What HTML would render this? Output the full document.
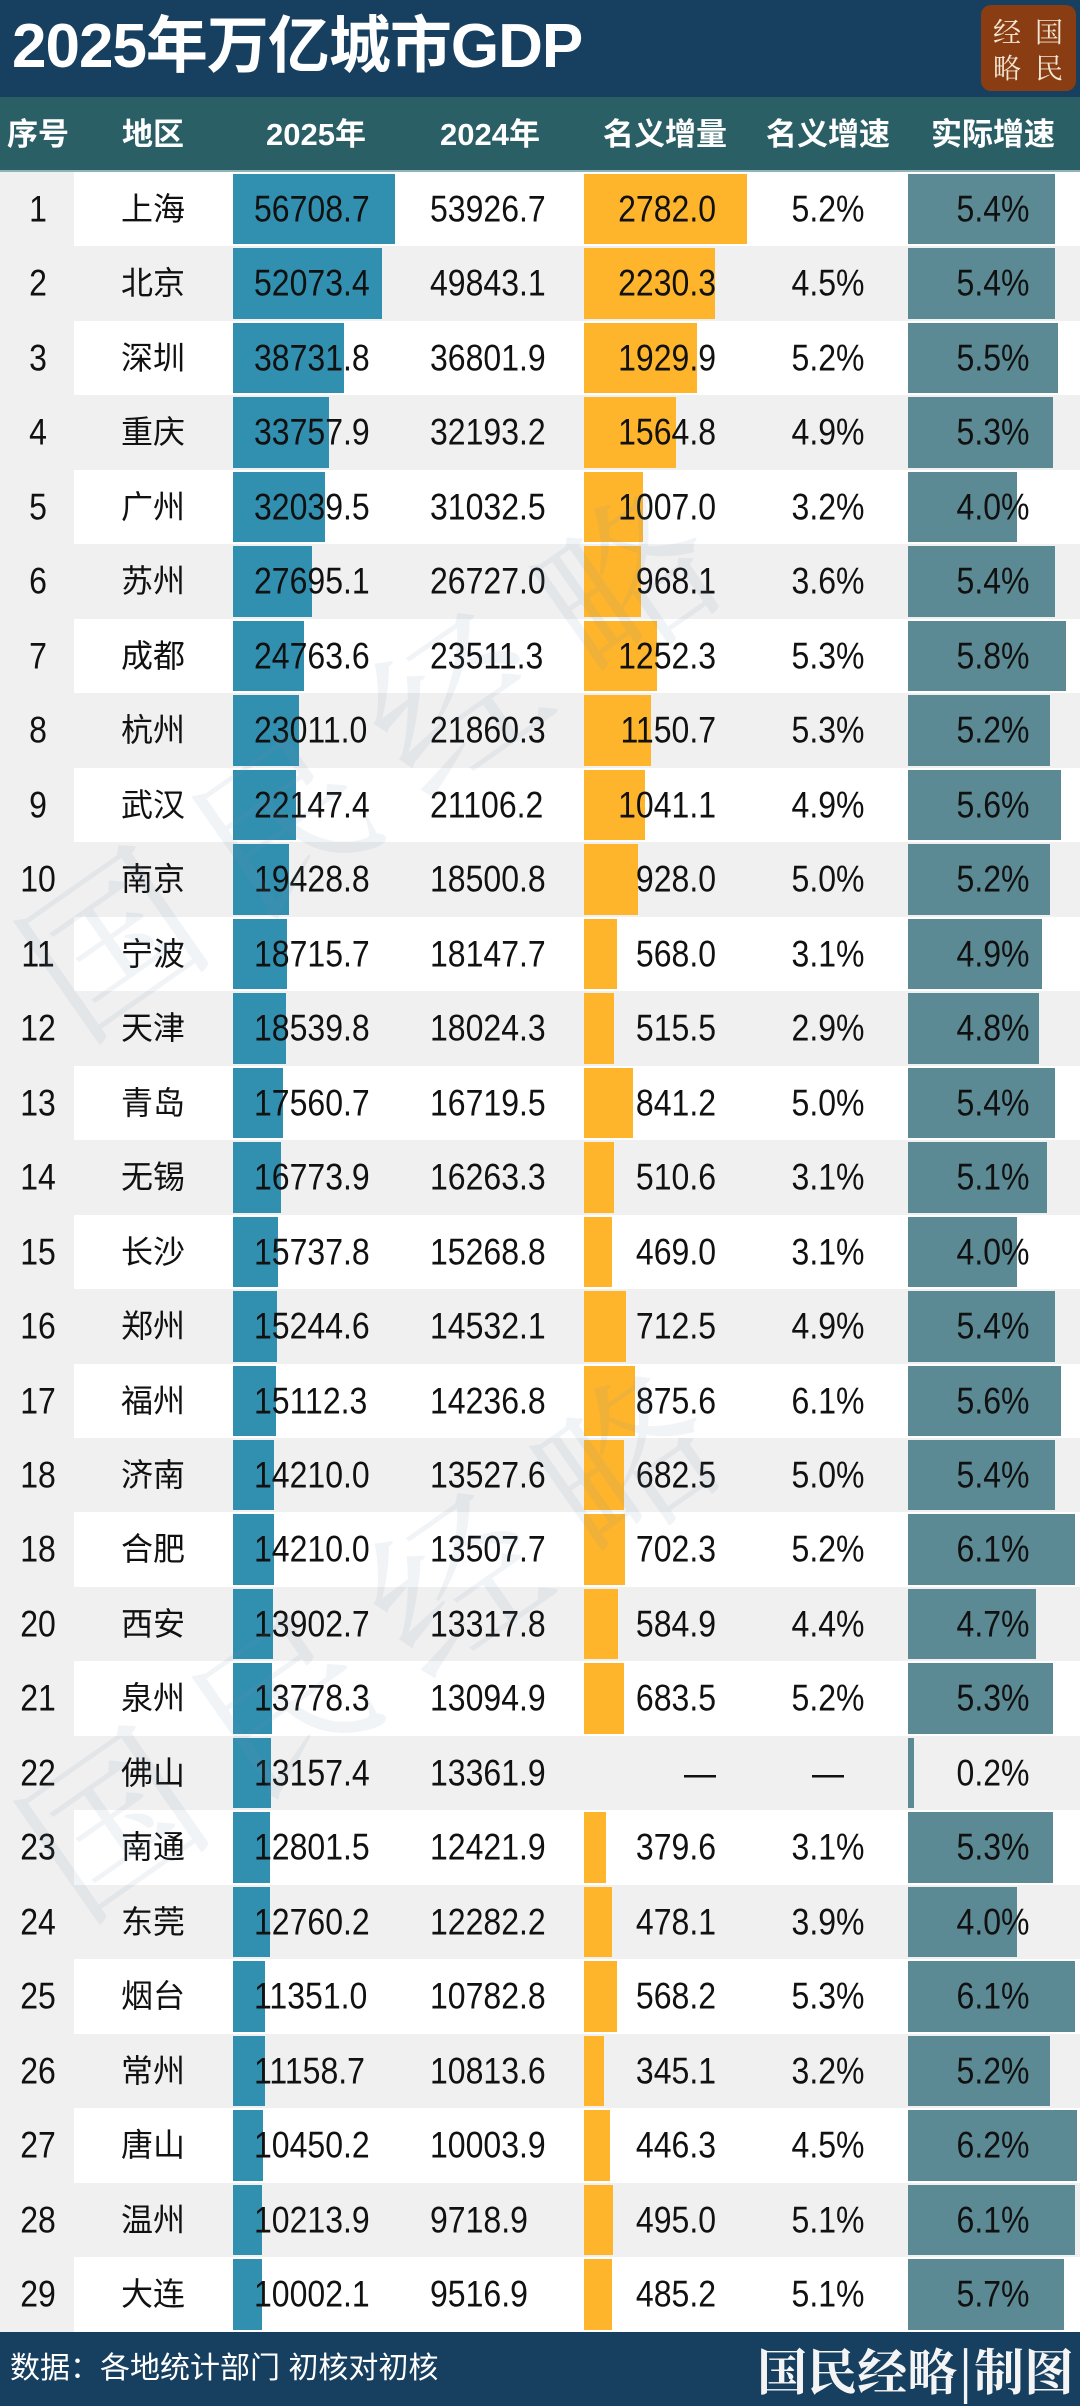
<!DOCTYPE html>
<html><head><meta charset="utf-8">
<style>
*{margin:0;padding:0;box-sizing:border-box}
body{width:1080px;height:2406px;position:relative;overflow:hidden;background:#fff;font-family:"Liberation Sans","Noto Sans CJK SC",sans-serif;color:#111}
.title{position:absolute;left:0;top:0;width:1080px;height:97px;background:#173f5f}
.title h1{position:absolute;left:12px;top:12px;font-size:62px;font-weight:bold;color:#fff;letter-spacing:-1px;line-height:70px;font-family:"Liberation Sans","Noto Sans CJK SC",sans-serif}
.logo{position:absolute;left:981px;top:5px;width:95px;height:86px;background:#8a3d12;border-radius:10px;color:#f3e7d6;font-family:"Noto Serif CJK SC",serif;font-size:28px;line-height:28px}
.logo b{position:absolute;font-weight:normal}
.head{position:absolute;left:0;top:97px;width:1080px;height:75px;background:#2a5f66;border-bottom:2px solid #8fb3b8}
.head span{position:absolute;top:0;line-height:75px;color:#fff;font-weight:bold;font-size:31px;transform:translateX(-50%);white-space:nowrap}
.rows{position:absolute;left:0;top:172px;width:1080px}
.r{position:relative;height:74.48px;background:#fff}
.r:nth-child(even){background:#f0f0f0}
.r:nth-child(odd)::before{content:"";position:absolute;left:0;top:0;width:74px;height:100%;background:#f0f0f0}
.r>*{position:absolute}
.n,.c,.t1,.t2,.t3,.t4,.t5{top:0;line-height:74px;font-size:32px;white-space:nowrap}
.n{left:38px;transform:translateX(-50%) scaleY(1.15)}
.c{left:153px;transform:translateX(-50%);font-size:32px}
.b1,.b2,.b3{top:2px;bottom:2px}
.b1{left:233px;width:var(--a);background:#318fb0}
.b2{left:584px;width:var(--b);background:#feb52b}
.b3{left:908px;width:var(--c);background:#5b8a94}
.t1{left:254px;transform:scaleY(1.15)}
.t2{left:430px;transform:scaleY(1.15)}
.t3{right:364px;transform:scaleY(1.15)}
.t4{left:828px;transform:translateX(-50%) scaleY(1.15)}
.t5{left:993px;transform:translateX(-50%) scaleY(1.15)}
.wm{position:absolute;font-family:"Noto Serif CJK SC",serif;font-size:170px;color:rgba(120,150,175,0.10);transform:rotate(-35deg);white-space:nowrap;pointer-events:none;letter-spacing:40px}
.foot{position:absolute;left:0;top:2332px;width:1080px;height:74px;background:#173f5f;color:#fff}
.foot .s{position:absolute;left:10px;top:0;line-height:74px;font-size:30px}
.foot .m{position:absolute;right:6px;top:0;line-height:74px;font-size:50px;font-family:"Noto Serif CJK SC",serif;font-weight:bold;color:#f4f4f4;letter-spacing:0px}
</style></head><body>
<div class="title"><h1>2025年万亿城市GDP</h1><div class="logo"><b style="left:12px;top:12px">经</b><b style="left:54px;top:12px">国</b><b style="left:12px;top:48px">略</b><b style="left:54px;top:48px">民</b></div></div>
<div class="head">
<span style="left:38px">序号</span><span style="left:153px">地区</span><span style="left:316px">2025年</span><span style="left:490px">2024年</span><span style="left:665px">名义增量</span><span style="left:828px">名义增速</span><span style="left:993px">实际增速</span>
</div>
<div class="rows">
<div class="r" style="--a:162px;--b:163px;--c:147.4px"><span class="n">1</span><span class="c">上海</span><i class="b1"></i><i class="b2"></i><i class="b3"></i><span class="t1">56708.7</span><span class="t2">53926.7</span><span class="t3">2782.0</span><span class="t4">5.2%</span><span class="t5">5.4%</span></div>
<div class="r" style="--a:148.8px;--b:130.7px;--c:147.4px"><span class="n">2</span><span class="c">北京</span><i class="b1"></i><i class="b2"></i><i class="b3"></i><span class="t1">52073.4</span><span class="t2">49843.1</span><span class="t3">2230.3</span><span class="t4">4.5%</span><span class="t5">5.4%</span></div>
<div class="r" style="--a:110.7px;--b:113.1px;--c:150.2px"><span class="n">3</span><span class="c">深圳</span><i class="b1"></i><i class="b2"></i><i class="b3"></i><span class="t1">38731.8</span><span class="t2">36801.9</span><span class="t3">1929.9</span><span class="t4">5.2%</span><span class="t5">5.5%</span></div>
<div class="r" style="--a:96.4px;--b:91.7px;--c:144.7px"><span class="n">4</span><span class="c">重庆</span><i class="b1"></i><i class="b2"></i><i class="b3"></i><span class="t1">33757.9</span><span class="t2">32193.2</span><span class="t3">1564.8</span><span class="t4">4.9%</span><span class="t5">5.3%</span></div>
<div class="r" style="--a:91.5px;--b:59px;--c:109.2px"><span class="n">5</span><span class="c">广州</span><i class="b1"></i><i class="b2"></i><i class="b3"></i><span class="t1">32039.5</span><span class="t2">31032.5</span><span class="t3">1007.0</span><span class="t4">3.2%</span><span class="t5">4.0%</span></div>
<div class="r" style="--a:79.1px;--b:56.7px;--c:147.4px"><span class="n">6</span><span class="c">苏州</span><i class="b1"></i><i class="b2"></i><i class="b3"></i><span class="t1">27695.1</span><span class="t2">26727.0</span><span class="t3">968.1</span><span class="t4">3.6%</span><span class="t5">5.4%</span></div>
<div class="r" style="--a:70.7px;--b:73.4px;--c:158.3px"><span class="n">7</span><span class="c">成都</span><i class="b1"></i><i class="b2"></i><i class="b3"></i><span class="t1">24763.6</span><span class="t2">23511.3</span><span class="t3">1252.3</span><span class="t4">5.3%</span><span class="t5">5.8%</span></div>
<div class="r" style="--a:65.7px;--b:67.4px;--c:142px"><span class="n">8</span><span class="c">杭州</span><i class="b1"></i><i class="b2"></i><i class="b3"></i><span class="t1">23011.0</span><span class="t2">21860.3</span><span class="t3">1150.7</span><span class="t4">5.3%</span><span class="t5">5.2%</span></div>
<div class="r" style="--a:63.3px;--b:61px;--c:152.9px"><span class="n">9</span><span class="c">武汉</span><i class="b1"></i><i class="b2"></i><i class="b3"></i><span class="t1">22147.4</span><span class="t2">21106.2</span><span class="t3">1041.1</span><span class="t4">4.9%</span><span class="t5">5.6%</span></div>
<div class="r" style="--a:55.5px;--b:54.4px;--c:142px"><span class="n">10</span><span class="c">南京</span><i class="b1"></i><i class="b2"></i><i class="b3"></i><span class="t1">19428.8</span><span class="t2">18500.8</span><span class="t3">928.0</span><span class="t4">5.0%</span><span class="t5">5.2%</span></div>
<div class="r" style="--a:53.5px;--b:33.3px;--c:133.8px"><span class="n">11</span><span class="c">宁波</span><i class="b1"></i><i class="b2"></i><i class="b3"></i><span class="t1">18715.7</span><span class="t2">18147.7</span><span class="t3">568.0</span><span class="t4">3.1%</span><span class="t5">4.9%</span></div>
<div class="r" style="--a:53px;--b:30.2px;--c:131px"><span class="n">12</span><span class="c">天津</span><i class="b1"></i><i class="b2"></i><i class="b3"></i><span class="t1">18539.8</span><span class="t2">18024.3</span><span class="t3">515.5</span><span class="t4">2.9%</span><span class="t5">4.8%</span></div>
<div class="r" style="--a:50.2px;--b:49.3px;--c:147.4px"><span class="n">13</span><span class="c">青岛</span><i class="b1"></i><i class="b2"></i><i class="b3"></i><span class="t1">17560.7</span><span class="t2">16719.5</span><span class="t3">841.2</span><span class="t4">5.0%</span><span class="t5">5.4%</span></div>
<div class="r" style="--a:47.9px;--b:29.9px;--c:139.2px"><span class="n">14</span><span class="c">无锡</span><i class="b1"></i><i class="b2"></i><i class="b3"></i><span class="t1">16773.9</span><span class="t2">16263.3</span><span class="t3">510.6</span><span class="t4">3.1%</span><span class="t5">5.1%</span></div>
<div class="r" style="--a:45px;--b:27.5px;--c:109.2px"><span class="n">15</span><span class="c">长沙</span><i class="b1"></i><i class="b2"></i><i class="b3"></i><span class="t1">15737.8</span><span class="t2">15268.8</span><span class="t3">469.0</span><span class="t4">3.1%</span><span class="t5">4.0%</span></div>
<div class="r" style="--a:43.6px;--b:41.8px;--c:147.4px"><span class="n">16</span><span class="c">郑州</span><i class="b1"></i><i class="b2"></i><i class="b3"></i><span class="t1">15244.6</span><span class="t2">14532.1</span><span class="t3">712.5</span><span class="t4">4.9%</span><span class="t5">5.4%</span></div>
<div class="r" style="--a:43.2px;--b:51.3px;--c:152.9px"><span class="n">17</span><span class="c">福州</span><i class="b1"></i><i class="b2"></i><i class="b3"></i><span class="t1">15112.3</span><span class="t2">14236.8</span><span class="t3">875.6</span><span class="t4">6.1%</span><span class="t5">5.6%</span></div>
<div class="r" style="--a:40.6px;--b:40px;--c:147.4px"><span class="n">18</span><span class="c">济南</span><i class="b1"></i><i class="b2"></i><i class="b3"></i><span class="t1">14210.0</span><span class="t2">13527.6</span><span class="t3">682.5</span><span class="t4">5.0%</span><span class="t5">5.4%</span></div>
<div class="r" style="--a:40.6px;--b:41.2px;--c:166.5px"><span class="n">18</span><span class="c">合肥</span><i class="b1"></i><i class="b2"></i><i class="b3"></i><span class="t1">14210.0</span><span class="t2">13507.7</span><span class="t3">702.3</span><span class="t4">5.2%</span><span class="t5">6.1%</span></div>
<div class="r" style="--a:39.7px;--b:34.3px;--c:128.3px"><span class="n">20</span><span class="c">西安</span><i class="b1"></i><i class="b2"></i><i class="b3"></i><span class="t1">13902.7</span><span class="t2">13317.8</span><span class="t3">584.9</span><span class="t4">4.4%</span><span class="t5">4.7%</span></div>
<div class="r" style="--a:39.4px;--b:40.1px;--c:144.7px"><span class="n">21</span><span class="c">泉州</span><i class="b1"></i><i class="b2"></i><i class="b3"></i><span class="t1">13778.3</span><span class="t2">13094.9</span><span class="t3">683.5</span><span class="t4">5.2%</span><span class="t5">5.3%</span></div>
<div class="r" style="--a:37.6px;--b:0px;--c:5.5px"><span class="n">22</span><span class="c">佛山</span><i class="b1"></i><i class="b2"></i><i class="b3"></i><span class="t1">13157.4</span><span class="t2">13361.9</span><span class="t3">—</span><span class="t4">—</span><span class="t5">0.2%</span></div>
<div class="r" style="--a:36.6px;--b:22.2px;--c:144.7px"><span class="n">23</span><span class="c">南通</span><i class="b1"></i><i class="b2"></i><i class="b3"></i><span class="t1">12801.5</span><span class="t2">12421.9</span><span class="t3">379.6</span><span class="t4">3.1%</span><span class="t5">5.3%</span></div>
<div class="r" style="--a:36.5px;--b:28px;--c:109.2px"><span class="n">24</span><span class="c">东莞</span><i class="b1"></i><i class="b2"></i><i class="b3"></i><span class="t1">12760.2</span><span class="t2">12282.2</span><span class="t3">478.1</span><span class="t4">3.9%</span><span class="t5">4.0%</span></div>
<div class="r" style="--a:32.4px;--b:33.3px;--c:166.5px"><span class="n">25</span><span class="c">烟台</span><i class="b1"></i><i class="b2"></i><i class="b3"></i><span class="t1">11351.0</span><span class="t2">10782.8</span><span class="t3">568.2</span><span class="t4">5.3%</span><span class="t5">6.1%</span></div>
<div class="r" style="--a:31.9px;--b:20.2px;--c:142px"><span class="n">26</span><span class="c">常州</span><i class="b1"></i><i class="b2"></i><i class="b3"></i><span class="t1">11158.7</span><span class="t2">10813.6</span><span class="t3">345.1</span><span class="t4">3.2%</span><span class="t5">5.2%</span></div>
<div class="r" style="--a:29.9px;--b:26.2px;--c:169.3px"><span class="n">27</span><span class="c">唐山</span><i class="b1"></i><i class="b2"></i><i class="b3"></i><span class="t1">10450.2</span><span class="t2">10003.9</span><span class="t3">446.3</span><span class="t4">4.5%</span><span class="t5">6.2%</span></div>
<div class="r" style="--a:29.2px;--b:29px;--c:166.5px"><span class="n">28</span><span class="c">温州</span><i class="b1"></i><i class="b2"></i><i class="b3"></i><span class="t1">10213.9</span><span class="t2">9718.9</span><span class="t3">495.0</span><span class="t4">5.1%</span><span class="t5">6.1%</span></div>
<div class="r" style="--a:28.6px;--b:28.4px;--c:155.6px"><span class="n">29</span><span class="c">大连</span><i class="b1"></i><i class="b2"></i><i class="b3"></i><span class="t1">10002.1</span><span class="t2">9516.9</span><span class="t3">485.2</span><span class="t4">5.1%</span><span class="t5">5.7%</span></div>
</div>
<div class="wm" style="left:-40px;top:620px">国民经略</div>
<div class="wm" style="left:-40px;top:1500px">国民经略</div>
<div class="foot"><span class="s">数据：各地统计部门 初核对初核</span><span class="m">国民经略|制图</span></div>
</body></html>
